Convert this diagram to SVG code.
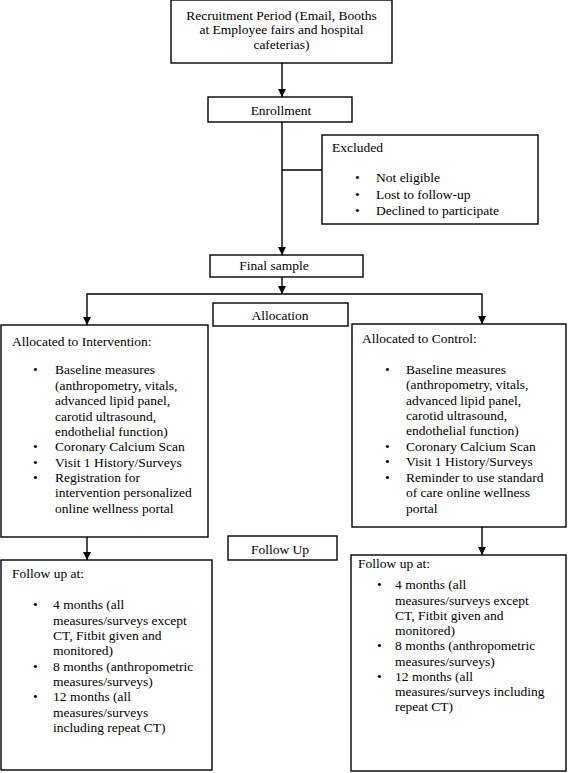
<svg xmlns="http://www.w3.org/2000/svg" width="568" height="773" viewBox="0 0 568 773">
<style>
  text { font-family: "Liberation Serif", "Times New Roman", serif; font-size: 13.5px; fill: #000; }
  .c { text-anchor: middle; }
  .box { fill: #fff; stroke: #000; stroke-width: 1.4; }
  .ln { fill: none; stroke: #000; stroke-width: 1.4; }
</style>
<defs>
  <marker id="ah" markerUnits="userSpaceOnUse" markerWidth="8" markerHeight="8" refX="8" refY="4" orient="auto">
    <path d="M0,0 L8,4 L0,8 z" fill="#000"/>
  </marker>
</defs>
<rect width="568" height="773" fill="#fff"/>

<g id="connectors">
  <line class="ln" x1="282" y1="63" x2="282" y2="97" marker-end="url(#ah)"/>
  <line class="ln" x1="282" y1="122" x2="282" y2="255" marker-end="url(#ah)"/>
  <line class="ln" x1="282" y1="170" x2="322" y2="170"/>
  <line class="ln" x1="282" y1="277" x2="282" y2="294" marker-end="url(#ah)"/>
  <polyline class="ln" points="87,294 482,294 482,324" marker-end="url(#ah)"/>
  <line class="ln" x1="87" y1="293.3" x2="87" y2="325" marker-end="url(#ah)"/>
  <line class="ln" x1="87" y1="537" x2="87" y2="560" marker-end="url(#ah)"/>
  <line class="ln" x1="482" y1="527" x2="482" y2="555" marker-end="url(#ah)"/>
</g>

<g id="recruitment">
  <rect class="box" x="171" y="0" width="221" height="63"/>
  <text class="c" x="281.5" y="19.5">Recruitment Period (Email, Booths</text>
  <text class="c" x="281.5" y="34">at Employee fairs and hospital</text>
  <text class="c" x="281.5" y="48.5">cafeterias)</text>
</g>

<g id="enrollment">
  <rect class="box" x="208" y="97" width="144" height="25"/>
  <text class="c" x="281" y="114.5">Enrollment</text>
</g>

<g id="excluded">
  <rect class="box" x="322" y="135" width="216" height="89"/>
  <text x="332" y="152">Excluded</text>
  <text x="355" y="182">•</text><text x="376" y="182">Not eligible</text>
  <text x="355" y="198.5">•</text><text x="376" y="198.5">Lost to follow-up</text>
  <text x="355" y="215">•</text><text x="376" y="215">Declined to participate</text>
</g>

<g id="final-sample">
  <rect class="box" x="210" y="255" width="153" height="22"/>
  <text class="c" x="274" y="270">Final sample</text>
</g>

<g id="allocation">
  <rect class="box" x="213" y="303" width="135" height="23"/>
  <text class="c" x="280" y="320">Allocation</text>
</g>

<g id="intervention">
  <rect class="box" x="1" y="325" width="207" height="212"/>
  <text x="12" y="345.5">Allocated to Intervention:</text>
  <text x="33" y="374">•</text><text x="55" y="374">Baseline measures</text>
  <text x="55" y="389.5">(anthropometry, vitals,</text>
  <text x="55" y="405">advanced lipid panel,</text>
  <text x="55" y="420.5">carotid ultrasound,</text>
  <text x="55" y="435.5">endothelial function)</text>
  <text x="33" y="451">•</text><text x="55" y="451">Coronary Calcium Scan</text>
  <text x="33" y="466.5">•</text><text x="55" y="466.5">Visit 1 History/Surveys</text>
  <text x="33" y="481.5">•</text><text x="55" y="481.5">Registration for</text>
  <text x="55" y="497">intervention personalized</text>
  <text x="55" y="512.5">online wellness portal</text>
</g>

<g id="control">
  <rect class="box" x="352" y="324" width="214" height="203"/>
  <text x="362" y="342.5">Allocated to Control:</text>
  <text x="385" y="373.5">•</text><text x="406" y="373.5">Baseline measures</text>
  <text x="406" y="389">(anthropometry, vitals,</text>
  <text x="406" y="404.5">advanced lipid panel,</text>
  <text x="406" y="420">carotid ultrasound,</text>
  <text x="406" y="435">endothelial function)</text>
  <text x="385" y="450.5">•</text><text x="406" y="450.5">Coronary Calcium Scan</text>
  <text x="385" y="466">•</text><text x="406" y="466">Visit 1 History/Surveys</text>
  <text x="385" y="481.5">•</text><text x="406" y="481.5">Reminder to use standard</text>
  <text x="406" y="497">of care online wellness</text>
  <text x="406" y="512.5">portal</text>
</g>

<g id="follow-up-label">
  <rect class="box" x="228" y="536" width="109" height="24"/>
  <text class="c" x="280" y="553.5">Follow Up</text>
</g>

<g id="followup-intervention">
  <rect class="box" x="1" y="560" width="211" height="210"/>
  <text x="12" y="577.5">Follow up at:</text>
  <text x="33" y="609">•</text><text x="53" y="609">4 months (all</text>
  <text x="53" y="624.5">measures/surveys except</text>
  <text x="53" y="640">CT, Fitbit given and</text>
  <text x="53" y="655">monitored)</text>
  <text x="33" y="670.5">•</text><text x="53" y="670.5">8 months (anthropometric</text>
  <text x="53" y="686">measures/surveys)</text>
  <text x="33" y="701">•</text><text x="53" y="701">12 months (all</text>
  <text x="53" y="716.5">measures/surveys</text>
  <text x="53" y="732">including repeat CT)</text>
</g>

<g id="followup-control">
  <rect class="box" x="351" y="555" width="215" height="216"/>
  <text x="358" y="567.5">Follow up at:</text>
  <text x="377" y="589">•</text><text x="395" y="589">4 months (all</text>
  <text x="395" y="604.5">measures/surveys except</text>
  <text x="395" y="619.5">CT, Fitbit given and</text>
  <text x="395" y="635">monitored)</text>
  <text x="377" y="650">•</text><text x="395" y="650">8 months (anthropometric</text>
  <text x="395" y="665.5">measures/surveys)</text>
  <text x="377" y="680.5">•</text><text x="395" y="680.5">12 months (all</text>
  <text x="395" y="696">measures/surveys including</text>
  <text x="395" y="711">repeat CT)</text>
</g>
</svg>
